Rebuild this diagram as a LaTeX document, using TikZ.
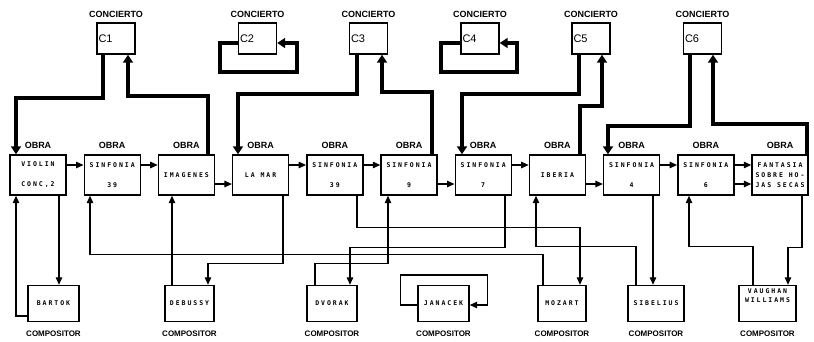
\documentclass[tikz,border=0pt]{standalone}
\usepackage{fontspec}
\setmainfont{Liberation Sans}
\newfontfamily\boxfont[LetterSpace=30]{DejaVu Sans Mono}
\usetikzlibrary{arrows.meta}
\tikzset{
  obox/.style={draw, line width=1.4pt, minimum width=56pt, minimum height=40pt, inner sep=0pt, align=center,
    font=\boxfont\bfseries\fontsize{6.5}{10}\selectfont},
  cbox/.style={draw, line width=1.4pt, minimum width=38pt, minimum height=31pt, inner sep=0pt},
  pbox/.style={draw, line width=1.4pt, minimum height=36pt, inner sep=0pt, align=center,
    font=\boxfont\bfseries\fontsize{6.5}{9.5}\selectfont},
  ctext/.style={font=\fontsize{11}{12}\selectfont, inner sep=0pt, anchor=west},
  lbl/.style={font=\bfseries\fontsize{9}{10}\selectfont, inner sep=0pt},
  plbl/.style={font=\bfseries\fontsize{8}{9}\selectfont, inner sep=0pt},
  conn/.style={line width=1.2pt, -{Triangle[length=7.5pt,width=6.5pt]}},
  fat/.style={line width=4pt, line join=miter, -{Triangle[length=8pt,width=10pt]}},
}
\begin{document}
\begin{tikzpicture}[x=1pt,y=-1pt]
\fill[white] (0,0) rectangle (814,341);
\path[use as bounding box] (0,0) rectangle (814,341);

% OBRA boxes
\node[obox] (v1) at (38,175) {VIOLIN\\[10pt]CONC,2};
\node[obox] (v2) at (112.2,175) {SINFONIA\\[10pt]39};
\node[obox] (v3) at (186.4,175) {IMAGENES};
\node[obox] (v4) at (260.6,175) {LA MAR};
\node[obox] (v5) at (334.8,175) {SINFONIA\\[10pt]39};
\node[obox] (v6) at (409.0,175) {SINFONIA\\[10pt]9};
\node[obox] (v7) at (483.2,175) {SINFONIA\\[10pt]7};
\node[obox] (v8) at (557.4,175) {IBERIA};
\node[obox] (v9) at (631.6,175) {SINFONIA\\[10pt]4};
\node[obox] (v10) at (705.8,175) {SINFONIA\\[10pt]6};
\node[obox] (v11) at (780.0,175) {FANTASIA\\SOBRE HO-\\JAS SECAS};
\foreach \i in {1,...,11}{\node[lbl] (o\i) at ([yshift=9pt]v\i.north) {OBRA};}

% CONCIERTO boxes
\node[cbox] (c1) at (116,38.5) {};
\node[cbox] (c2) at (257.5,38.5) {};
\node[cbox] (c3) at (368.5,38.5) {};
\node[cbox] (c4) at (480,38.5) {};
\node[cbox] (c5) at (591,38.5) {};
\node[cbox] (c6) at (702.5,38.5) {};
\foreach \i in {1,...,6}{
  \node[ctext] (ct\i) at ([xshift=2pt]c\i.west) {C\i};
  \node[lbl] (k\i) at ([yshift=8pt]c\i.north) {CONCIERTO};
}

% COMPOSITOR boxes
\node[pbox, minimum width=51pt] (bartok) at (53.5,303.5) {BARTOK};
\node[pbox, minimum width=49pt] (debussy) at (189.5,303.5) {DEBUSSY};
\node[pbox, minimum width=50pt] (dvorak) at (332,303.5) {DVORAK};
\node[pbox, minimum width=51pt] (janacek) at (443.5,303.5) {JANACEK};
\node[pbox, minimum width=48pt] (mozart) at (562,303.5) {MOZART};
\node[pbox, minimum width=56pt] (sibelius) at (656,303.5) {SIBELIUS};
\node[pbox, minimum width=57pt] (vw) at (767.5,303.5) {VAUGHAN\\WILLIAMS\\[6pt]\mbox{}};
\foreach \n in {bartok,debussy,dvorak,janacek,mozart,sibelius,vw}{
  \node[plbl] (p\n) at ([yshift=-12pt]\n.south) {COMPOSITOR};
}

% chain arrows between works
\draw[conn] ([yshift=10pt]v1.east) -- ([yshift=10pt]v2.west);
\draw[conn] ([yshift=10pt]v2.east) -- ([yshift=10pt]v3.west);
\draw[conn] ([yshift=-9pt]v3.east) -- ([yshift=-9pt]v4.west);
\draw[conn] ([yshift=10pt]v4.east) -- ([yshift=10pt]v5.west);
\draw[conn] ([yshift=10pt]v5.east) -- ([yshift=10pt]v6.west);
\draw[conn] ([yshift=-9pt]v6.east) -- ([yshift=-9pt]v7.west);
\draw[conn] ([yshift=10pt]v7.east) -- ([yshift=10pt]v8.west);
\draw[conn] ([yshift=-9pt]v8.east) -- ([yshift=-9pt]v9.west);
\draw[conn] ([yshift=10pt]v9.east) -- ([yshift=10pt]v10.west);
\draw[conn] ([yshift=10pt]v10.east) -- ([yshift=10pt]v11.west);
\draw[conn] ([yshift=-9pt]v10.east) -- ([yshift=-9pt]v11.west);

% works <-> composers
\draw[conn] ([xshift=21pt]v1.south) -- ([xshift=21pt]v1.south |- bartok.north);
\draw[conn] ([yshift=-12.5pt]bartok.west) -| ([xshift=-22pt]v1.south);
\draw[conn] ([xshift=-17.5pt]debussy.north) -- ([xshift=-17.5pt]debussy.north |- v3.south);
\draw[conn] ([xshift=22.4pt]v4.south) -- ++(0,68) -| ([xshift=18.5pt]debussy.north);
\draw[conn] ([xshift=22.2pt]v5.south) -- ++(0,32) -| ([xshift=18pt]mozart.north);
\draw[conn] ([xshift=-19pt]mozart.north) -- ++(0,-30.5) -| ([xshift=-22.2pt]v2.south);
\draw[conn] ([xshift=21.8pt]v7.south) -- ++(0,52) -| ([xshift=18pt]dvorak.north);
\draw[conn] ([xshift=-17pt]dvorak.north) -- ++(0,-21.5) -| ([xshift=-21pt]v6.south);
\draw[conn] ([xshift=-20pt]sibelius.north) -- ++(0,-38.5) -| ([xshift=-21.4pt]v8.south);
\draw[conn] ([xshift=21.4pt]v9.south) -- ([xshift=21.4pt]v9.south |- sibelius.north);
\draw[conn] ([xshift=-14.5pt]vw.north) -- ++(0,-38.5) -| ([xshift=-16.8pt]v10.south);
\draw[conn] ([xshift=22pt]v11.south) -- ++(0,52) -| ([xshift=20.5pt]vw.north);
\draw[conn] ([yshift=-1.5pt]janacek.west) -- ++(-17,0) -- ++(0,-30) -- ++(87,0) -- ++(0,30) -- ([yshift=-1.5pt]janacek.east);

% concerts <-> works (thick)
\draw[fat] ([xshift=-13pt]c1.south) -- ++(0,43) -| ([xshift=-22pt]v1.north);
\draw[fat] ([xshift=21.6pt]v3.north) -- ++(0,-58) -| ([xshift=12pt]c1.south);
\draw[fat] ([yshift=-4.5pt]c2.west) -- ++(-18,0) -- ++(0,29) -- ++(77,0) -- ++(0,-29) -- ([yshift=-4.5pt]c2.east);
\draw[fat] ([xshift=-11.5pt]c3.south) -- ++(0,39) -| ([xshift=-22.6pt]v4.north);
\draw[fat] ([xshift=23pt]v6.north) -- ++(0,-62) -| ([xshift=13.5pt]c3.south);
\draw[fat] ([yshift=-4.5pt]c4.west) -- ++(-19,0) -- ++(0,29) -- ++(76,0) -- ++(0,-29) -- ([yshift=-4.5pt]c4.east);
\draw[fat] ([xshift=-12pt]c5.south) -- ++(0,39) -| ([xshift=-21.2pt]v7.north);
\draw[fat] ([xshift=22.6pt]v8.north) -- ++(0,-48) -| ([xshift=11pt]c5.south);
\draw[fat] ([xshift=-12.5pt]c6.south) -- ++(0,71) -| ([xshift=-23.6pt]v9.north);
\draw[fat] ([xshift=26.6pt]v11.north) -- ++(0,-30) -| ([xshift=10.5pt]c6.south);
\end{tikzpicture}
\end{document}
